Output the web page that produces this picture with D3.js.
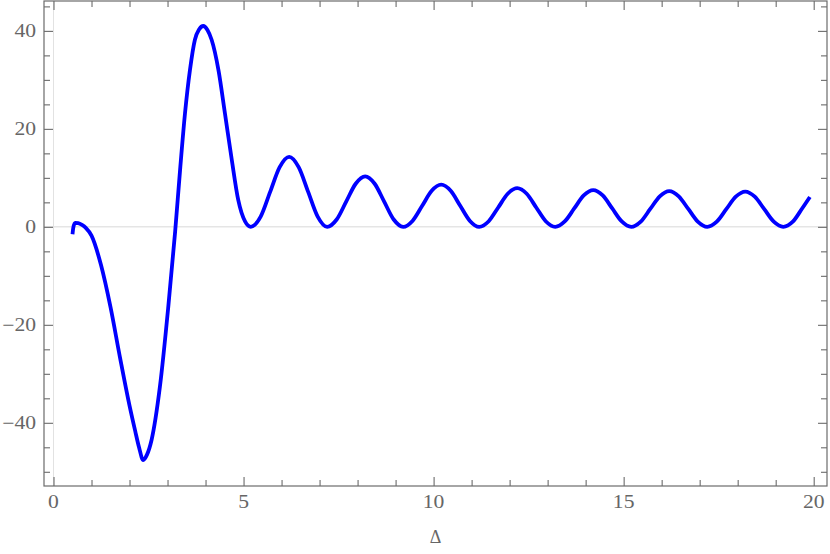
<!DOCTYPE html>
<html>
<head>
<meta charset="utf-8">
<script src="https://cdn.jsdelivr.net/npm/d3@7"></script>
<style>
  html, body { margin: 0; padding: 0; background: #fff; }
  svg { display: block; }
</style>
</head>
<body>
<svg id="chart" width="830" height="554"></svg>
<script>
// ---- data ----
const deltaValues = [
  0.50, 0.52, 0.57, 0.65, 0.75, 0.85, 1.00, 1.25, 1.50, 1.75, 2.00, 2.15, 2.25, 2.36, 2.46, 2.58, 2.80, 3.02, 3.20,
  3.33, 3.46, 3.59, 3.72, 3.83, 3.94, 4.05, 4.16, 4.34, 4.51, 4.69, 4.86, 5.04, 5.19,
  5.45, 5.70, 5.95, 6.20, 6.45, 6.70, 6.95, 7.20,
  7.45, 7.70, 7.95, 8.20, 8.45, 8.70, 8.95, 9.20,
  9.45, 9.70, 9.95, 10.20, 10.45, 10.70, 10.95, 11.20,
  11.45, 11.70, 11.95, 12.20, 12.45, 12.70, 12.95, 13.20,
  13.45, 13.70, 13.95, 14.20, 14.45, 14.70, 14.95, 15.20,
  15.45, 15.70, 15.95, 16.20, 16.45, 16.70, 16.95, 17.20,
  17.45, 17.70, 17.95, 18.20, 18.45, 18.70, 18.95, 19.20,
  19.45, 19.70, 19.90
];
const seriesValues = [
  -1.5, -0.2, 0.8, 0.75, 0.4, -0.2, -1.8, -7.8, -16.4, -26.7, -36.5, -41.7, -45.0, -47.6, -46.5, -43.5, -32.6, -16.3, -1.0,
  11.6, 23.2, 32.0, 38.2, 40.3, 41.0, 40.2, 38.2, 32.0, 23.2, 13.7, 5.5, 1.1, 0.0,
  2.1, 7.15, 12.2, 14.3, 12.2, 7.15, 2.1, 0.0,
  1.5, 5.15, 8.8, 10.3, 8.8, 5.15, 1.5, 0.0,
  1.26, 4.3, 7.35, 8.6, 7.35, 4.3, 1.26, 0.0,
  1.15, 3.95, 6.75, 7.9, 6.75, 3.95, 1.15, 0.0,
  1.1, 3.75, 6.4, 7.5, 6.4, 3.75, 1.1, 0.0,
  1.07, 3.65, 6.23, 7.3, 6.23, 3.65, 1.07, 0.0,
  1.05, 3.6, 6.15, 7.2, 6.15, 3.6, 1.05, 0.0,
  1.05, 3.8, 6.1
];
const xTickValues = [0, 5, 10, 15, 20];
const xTickLabels = ["0", "5", "10", "15", "20"];
const yTickValues = [-40, -20, 0, 20, 40];
const yTickLabels = ["\u221240", "\u221220", "0", "20", "40"];
const xMinorTicks = d3.range(0, 21, 1).filter(v => v % 5 !== 0);
const yMinorTicks = d3.range(-50, 50, 5).filter(v => v % 20 !== 0);
const xLabel = "\u0394";

// ---- layout ----
const frame = { left: 44, right: 827, top: 1, bottom: 486 };
const x = d3.scaleLinear().domain([-0.25, 20.35]).range([frame.left, frame.right]);
const y = d3.scaleLinear().domain([-52.9, 46.1]).range([frame.bottom, frame.top]);

const svg = d3.select("#chart");
const frameColor = "#6b6b6b";
const labelColor = "#666666";
const font = "'Liberation Serif', 'Times New Roman', serif";

// axes lines inside the frame (light gray)
svg.append("line")
  .attr("x1", frame.left).attr("x2", frame.right)
  .attr("y1", y(0)).attr("y2", y(0))
  .attr("stroke", "#d8d8d8").attr("stroke-width", 1);
svg.append("line")
  .attr("x1", x(0)).attr("x2", x(0))
  .attr("y1", frame.top).attr("y2", frame.bottom)
  .attr("stroke", "#e2e2e2").attr("stroke-width", 1);

// curve
const pts = deltaValues.map((d, i) => [d, seriesValues[i]]);
const line = d3.line()
  .x(d => x(d[0]))
  .y(d => y(d[1]))
  .curve(d3.curveMonotoneX);
svg.append("path")
  .datum(pts)
  .attr("d", line)
  .attr("fill", "none")
  .attr("stroke", "#0000ff")
  .attr("stroke-width", 3.8)
  .attr("stroke-linejoin", "round");

// frame
svg.append("rect")
  .attr("x", frame.left).attr("y", frame.top)
  .attr("width", frame.right - frame.left)
  .attr("height", frame.bottom - frame.top)
  .attr("fill", "none")
  .attr("stroke", frameColor).attr("stroke-width", 1.2);

// ticks via d3 axes (inward)
const major = 9, minor = 6;
function styleAxis(g) {
  g.select(".domain").remove();
  g.selectAll(".tick line").attr("stroke", frameColor).attr("stroke-width", 1.1);
}
function addTicks(axisFn, pos, transform) {
  svg.append("g").attr("transform", transform)
    .call(axisFn(pos.scale).tickValues(pos.major).tickSize(major).tickFormat(() => ""))
    .call(styleAxis);
  svg.append("g").attr("transform", transform)
    .call(axisFn(pos.scale).tickValues(pos.minor).tickSize(minor).tickFormat(() => ""))
    .call(styleAxis);
}
const xs = { scale: x, major: xTickValues, minor: xMinorTicks };
const ys = { scale: y, major: yTickValues, minor: yMinorTicks };
addTicks(d3.axisTop, xs, `translate(0,${frame.bottom})`);
addTicks(d3.axisBottom, xs, `translate(0,${frame.top})`);
addTicks(d3.axisRight, ys, `translate(${frame.left},0)`);
addTicks(d3.axisLeft, ys, `translate(${frame.right},0)`);

// tick labels
svg.append("g").selectAll("text")
  .data(xTickValues)
  .join("text")
  .attr("transform", d => `translate(${x(d)},508) scale(1.2,1)`)
  .attr("text-anchor", "middle")
  .attr("font-family", font)
  .attr("font-size", 18)
  .attr("fill", labelColor)
  .text((d, i) => xTickLabels[i]);

svg.append("g").selectAll("text")
  .data(yTickValues)
  .join("text")
  .attr("transform", d => `translate(36,${y(d)}) scale(1.2,1)`)
  .attr("dy", "0.33em")
  .attr("text-anchor", "end")
  .attr("font-family", font)
  .attr("font-size", 18)
  .attr("fill", labelColor)
  .text((d, i) => yTickLabels[i]);

// axis label
svg.append("text")
  .attr("x", (frame.left + frame.right) / 2)
  .attr("y", 543)
  .attr("text-anchor", "middle")
  .attr("font-family", font)
  .attr("font-size", 18)
  .attr("fill", labelColor)
  .text(xLabel);
</script>
</body>
</html>
